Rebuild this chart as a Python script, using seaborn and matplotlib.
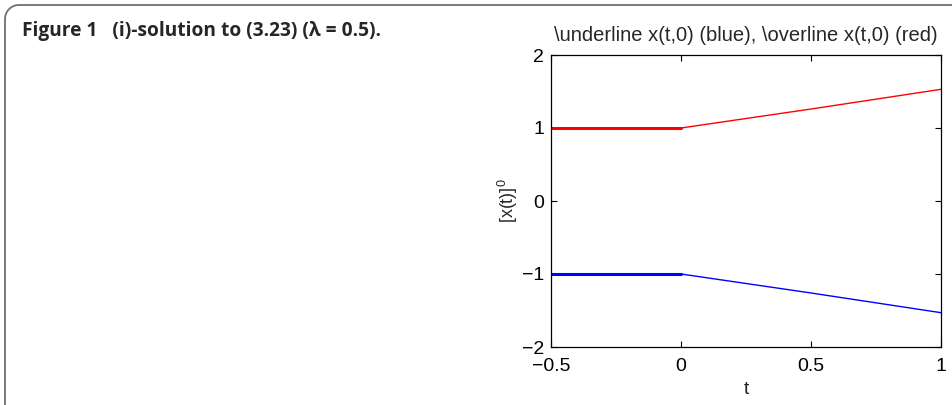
import numpy as np
import pandas as pd
import matplotlib
matplotlib.use("Agg")
import matplotlib.pyplot as plt
from matplotlib.lines import Line2D
import seaborn as sns

# --- data ---
t_hist = [-0.5, 0.0]
upper_hist = [1.0, 1.0]
lower_hist = [-1.0, -1.0]
t_sol = [0.0, 0.5, 1.0]
upper_sol = [1.0, 1.26, 1.53]
lower_sol = [-1.0, -1.26, -1.53]
x_ticks = [-0.5, 0, 0.5, 1]
x_ticklabels = ["\u22120.5", "0", "0.5", "1"]
y_ticks = [-2, -1, 0, 1, 2]
y_ticklabels = ["\u22122", "\u22121", "0", "1", "2"]
title = "\\underline x(t,0) (blue), \\overline x(t,0) (red)"
caption = "Figure 1   (i)-solution to (3.23) (\u03bb = 0.5)."

sns.set_style("ticks")
plt.rcParams["font.family"] = ["Liberation Sans", "DejaVu Sans"]
plt.rcParams["mathtext.default"] = "regular"

W, H = 952, 405
fig = plt.figure(figsize=(W / 100, H / 100), dpi=100)
ax = fig.add_axes([551 / W, 1 - 347 / H, (941 - 551) / W, (347 - 55) / H])

hist = pd.DataFrame({"t": t_hist + t_hist, "x": upper_hist + lower_hist,
                     "s": ["upper"] * 2 + ["lower"] * 2})
sol = pd.DataFrame({"t": t_sol + t_sol, "x": upper_sol + lower_sol,
                    "s": ["upper"] * 3 + ["lower"] * 3})
pal = {"upper": "#ff0000", "lower": "#0000ff"}
sns.lineplot(data=hist, x="t", y="x", hue="s", palette=pal, lw=2.2, ax=ax,
             legend=False, sort=False, estimator=None)
sns.lineplot(data=sol, x="t", y="x", hue="s", palette=pal, lw=1.0, ax=ax,
             legend=False, sort=False, estimator=None)

ax.set_xlim(-0.5, 1)
ax.set_ylim(-2, 2)
ax.set_xticks(x_ticks)
ax.set_xticklabels(x_ticklabels)
ax.set_yticks(y_ticks)
ax.set_yticklabels(y_ticklabels)
ax.tick_params(direction="in", length=4, width=0.8, top=True, right=True,
               labelsize=14, colors="black")
ax.tick_params(axis="x", pad=8)
ax.tick_params(axis="y", pad=5)
for sp in ax.spines.values():
    sp.set_visible(True)
    sp.set_linewidth(0.9)
    sp.set_color("black")
ax.set_xlabel("t", fontsize=14, labelpad=4)
ax.set_ylabel("[x(t)]$^0$", fontsize=13, labelpad=1)
ax.set_title(title, fontsize=14.5, pad=10)

fig.text(22 / W, 1 - 36 / H, caption, fontsize=13.8, fontweight="bold",
         family=["Open Sans", "DejaVu Sans"], ha="left", va="baseline")

# frame with rounded top-left corner
r = 14
ang = np.linspace(np.pi, np.pi / 2, 20)
cx, cy = 5 + r, 5 + r
xs = [5] + list(cx + r * np.cos(ang)) + [W]
ys = [H] + list(cy - r * np.sin(ang)) + [5]
fig.add_artist(Line2D(np.array(xs) / W, 1 - np.array(ys) / H,
                      transform=fig.transFigure, color="#707070", lw=1.3))

fig.savefig("out.png", dpi=100)
